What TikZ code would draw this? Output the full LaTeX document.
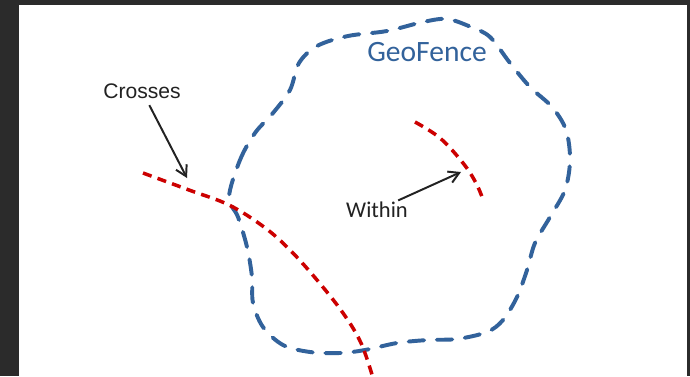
\documentclass[tikz,border=0pt]{standalone}
\usepackage{fontspec}
\setmainfont{Liberation Sans}
\newfontfamily\calibrifont{Carlito}
\usetikzlibrary{arrows.meta}
\definecolor{fenceblue}{HTML}{32629B}
\definecolor{pathred}{HTML}{CC0000}
\definecolor{textgray}{HTML}{222222}
\definecolor{framegray}{HTML}{2B2B2B}

\begin{document}
\begin{tikzpicture}[
    x=0.025cm, y=-0.025cm,
    fence/.style={draw=fenceblue, line width=2.8pt, line cap=round,
                  dash pattern=on 11pt off 9pt},
    route/.style={draw=pathred, line width=2.5pt,
                  dash pattern=on 6.5pt off 4.5pt},
    lbl/.style={inner sep=1pt, text=textgray, font=\fontsize{15pt}{18pt}\selectfont},
    arr/.style={-{Straight Barb[length=2.6mm, width=3mm]}, line width=1.4pt, textgray}
]

% --- Frame ---
\fill[framegray] (0,0) rectangle (690,376);
\fill[white] (19,5) rectangle (687,376);
\useasboundingbox (0,0) rectangle (690,376);

% --- GeoFence outline ---
\draw[fence] plot[smooth cycle, tension=0.55] coordinates {
    (229,197) (240,160) (255,133) (273,113) (290,90) (299,63) (317,46)
    (348,36) (387,31) (423,22) (447,19) (471,27) (490,37) (510,63)
    (530,87) (552,107) (566,130) (570,160) (565,190) (550,217) (535,243)
    (527,270) (517,297) (503,320) (487,332) (457,339) (428,340) (397,343)
    (365,350) (340,353) (310,352) (283,345) (263,327) (253,303) (252,277)
    (247,247) (238,217)};

% --- Routes ---
\draw[route] plot[smooth, tension=0.6] coordinates {
    (143,173) (189,190) (229,205) (264,227) (290,250) (317,280)
    (343,313) (361,343) (373,378)};
\draw[route] plot[smooth, tension=0.6] coordinates {
    (415,122) (440,138) (463,163) (476,183) (484,202)};

% --- Labels ---
\node[lbl] (crosses) at (142,91) {Crosses};
\node[lbl, font=\calibrifont\fontsize{16pt}{19pt}\selectfont] (within) at (377,210) {Within};
\node[inner sep=1pt, text=fenceblue, font=\calibrifont\fontsize{21pt}{24pt}\selectfont]
    (geofence) at (427,52) {GeoFence};

\coordinate (crossTip) at (187,178);
\coordinate (withinTip) at (461,172);

% --- Arrows ---
\draw[arr, shorten <=4pt] (crosses) -- (crossTip);
\draw[arr] (within) -- (withinTip);

\end{tikzpicture}
\end{document}
